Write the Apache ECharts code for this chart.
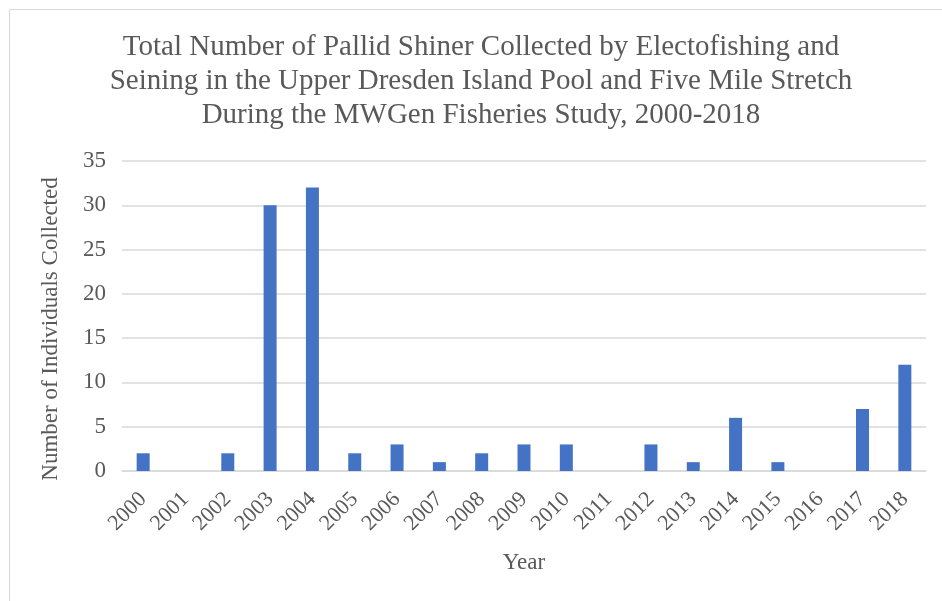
<!DOCTYPE html>
<html>
<head>
    <meta charset="UTF-8">
    <title></title>
    <script type="text/javascript" src="https://cdn.jsdelivr.net/npm/echarts@6/dist/echarts.min.js"></script>
    <style type="text/css">
        body { margin: 0; background: #fff; }
        #frame {
            position: absolute; left: 9px; top: 9px;
            width: 940px; height: 600px;
            border: 1px solid #d9d9d9; box-sizing: border-box;
        }
        #chart { width: 942px; height: 601px; }
    </style>
</head>
<body>
<div id="frame"></div>
<div id="chart"></div>
<script type="text/javascript">
    var years = ['2000','2001','2002','2003','2004','2005','2006','2007','2008','2009',
                 '2010','2011','2012','2013','2014','2015','2016','2017','2018'];
    var counts = [2, 0, 2, 30, 32, 2, 3, 1, 2, 3, 3, 0, 3, 1, 6, 1, 0, 7, 12];

    var serif = '"Liberation Serif", "DejaVu Serif", serif';
    var myChart = echarts.init(document.getElementById('chart'));
    myChart.setOption({
        animation: false,
        title: {
            text: 'Total Number of Pallid Shiner Collected by Electofishing and\nSeining in the Upper Dresden Island Pool and Five Mile Stretch\nDuring the MWGen Fisheries Study, 2000-2018',
            left: 476, top: 25, textAlign: 'center',
            textStyle: { fontFamily: serif, fontSize: 29, fontWeight: 'normal', color: '#595959', lineHeight: 34 }
        },
        grid: { left: 122, right: 16, top: 161, bottom: 130 },
        xAxis: {
            type: 'category',
            data: years,
            name: 'Year',
            nameLocation: 'middle',
            nameGap: 80,
            nameTextStyle: { fontFamily: serif, fontSize: 23, color: '#595959' },
            axisLine: { lineStyle: { color: '#d9d9d9', width: 1.5 } },
            axisTick: { show: false },
            axisLabel: { rotate: 45, interval: 0, fontFamily: serif, fontSize: 22, color: '#595959', margin: 25 }
        },
        yAxis: {
            type: 'value',
            min: 0, max: 35, interval: 5,
            name: 'Number of Individuals Collected',
            nameLocation: 'middle',
            nameGap: 60,
            nameTextStyle: { fontFamily: serif, fontSize: 23, color: '#595959', padding: [0, 26, 0, 0] },
            axisLine: { show: false },
            axisTick: { show: false },
            axisLabel: { fontFamily: serif, fontSize: 23, color: '#595959', margin: 16 },
            splitLine: { lineStyle: { color: '#d9d9d9', width: 1.5 } }
        },
        series: [{
            type: 'bar',
            data: counts,
            barWidth: 13,
            itemStyle: { color: '#4472C4' }
        }]
    });
</script>
</body>
</html>
